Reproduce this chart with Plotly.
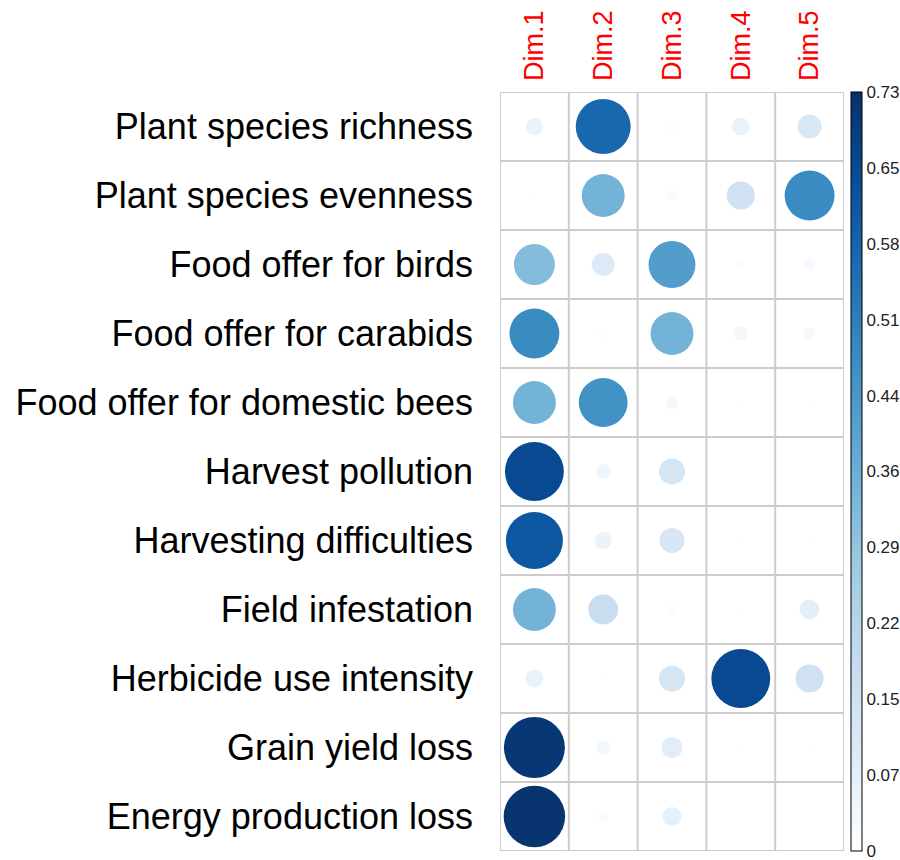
import plotly.graph_objects as go
import numpy as np

rows = ["Plant species richness", "Plant species evenness", "Food offer for birds",
        "Food offer for carabids", "Food offer for domestic bees", "Harvest pollution",
        "Harvesting difficulties", "Field infestation", "Herbicide use intensity",
        "Grain yield loss", "Energy production loss"]
dims = ["Dim.1", "Dim.2", "Dim.3", "Dim.4", "Dim.5"]

dim1 = [0.055, 0.005, 0.32, 0.475, 0.35, 0.66, 0.62, 0.35, 0.06, 0.71, 0.72]
dim2 = [0.575, 0.35, 0.10, 0.012, 0.455, 0.043, 0.055, 0.17, 0.005, 0.037, 0.019]
dim3 = [0.01, 0.019, 0.42, 0.35, 0.032, 0.128, 0.12, 0.012, 0.128, 0.084, 0.069]
dim4 = [0.06, 0.15, 0.012, 0.037, 0.005, 0.003, 0.003, 0.003, 0.66, 0.003, 0.003]
dim5 = [0.11, 0.475, 0.027, 0.027, 0.005, 0.003, 0.003, 0.076, 0.15, 0.003, 0.003]

tick_vals = [0, 0.073, 0.146, 0.219, 0.292, 0.365, 0.438, 0.511, 0.584, 0.657, 0.73]
tick_text = ["0", "0.07", "0.15", "0.22", "0.29", "0.36", "0.44", "0.51", "0.58", "0.65", "0.73"]
vmax = 0.73

cols = [dim1, dim2, dim3, dim4, dim5]
xs, ys, vs = [], [], []
for j, c in enumerate(cols):
    for i, v in enumerate(c):
        xs.append(j); ys.append(i); vs.append(v)
vs = np.array(vs)

W, H = 900, 860
ml, mr, mt, mb = 500, 56, 92, 9
cell = (W - ml - mr) / len(dims)
sizes = 0.9 * cell * np.sqrt(vs / vmax)

blues = [[0, "#ffffff"], [0.125, "#DEEBF7"], [0.25, "#C6DBEF"], [0.375, "#9ECAE1"],
         [0.5, "#6BAED6"], [0.625, "#4292C6"], [0.75, "#2171B5"], [0.875, "#08519C"],
         [1, "#08306B"]]

fig = go.Figure()
fig.add_trace(go.Scatter(
    x=xs, y=ys, mode="markers",
    marker=dict(size=sizes, sizemode="diameter", color=vs, colorscale=blues, opacity=1,
                cmin=0, cmax=vmax, line=dict(width=0),
                colorbar=dict(x=1.0205, xanchor="left", xref="paper", y=0.5, yanchor="middle",
                              len=1, lenmode="fraction", thickness=11,
                              outlinecolor="black", outlinewidth=1,
                              tickmode="array", tickvals=tick_vals, ticktext=tick_text, ticks="",
                              ticklabeloverflow="allow",
                              tickfont=dict(size=17, color="#222222", family="Arial, Liberation Sans"),
                              xpad=0, ypad=0)),
    hoverinfo="skip", showlegend=False))

shapes = []
for k in range(len(dims) + 1):
    shapes.append(dict(type="line", xref="x", yref="y", x0=k - 0.5, x1=k - 0.5,
                       y0=-0.5, y1=len(rows) - 0.5, line=dict(color="#cccccc", width=2), layer="below"))
for k in range(len(rows) + 1):
    shapes.append(dict(type="line", xref="x", yref="y", x0=-0.5, x1=len(dims) - 0.5,
                       y0=k - 0.5, y1=k - 0.5, line=dict(color="#cccccc", width=2), layer="below"))

fig.update_layout(
    width=W, height=H, margin=dict(l=ml, r=mr, t=mt, b=mb, autoexpand=False),
    plot_bgcolor="white", paper_bgcolor="white", shapes=shapes,
    font=dict(family="Arial, Liberation Sans"),
    xaxis=dict(range=[-0.5, len(dims) - 0.5], side="top", tickvals=list(range(len(dims))),
               ticktext=dims, tickangle=-90, tickfont=dict(size=27, color="red"),
               showgrid=False, zeroline=False, ticks="", ticklabelstandoff=10,
               fixedrange=True, automargin=False),
    yaxis=dict(range=[len(rows) - 0.5, -0.5], tickvals=list(range(len(rows))), ticktext=rows,
               tickfont=dict(size=36, color="black"), showgrid=False, zeroline=False,
               ticks="", ticklabelstandoff=26, fixedrange=True, automargin=False),
)
fig.write_html("out.html", config={"displayModeBar": False},
               post_script="document.body.style.margin='0';document.body.style.padding='0';")
